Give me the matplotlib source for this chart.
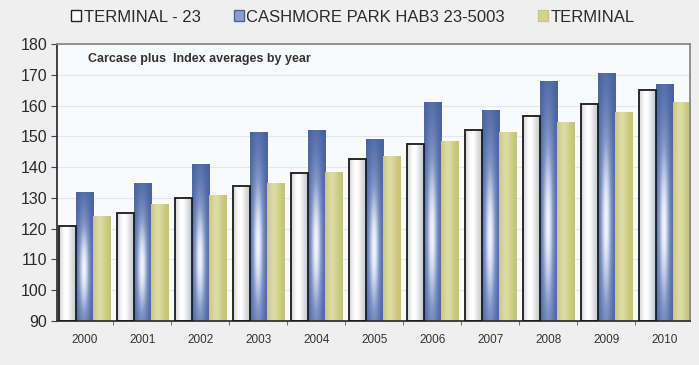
import matplotlib
matplotlib.use("Agg")
import matplotlib.pyplot as plt
import numpy as np
from matplotlib.colors import LinearSegmentedColormap
from matplotlib.patches import Patch

years = ["2000", "2001", "2002", "2003", "2004", "2005", "2006", "2007", "2008", "2009", "2010"]
terminal_23 = [121, 125, 130, 134, 138, 142.5, 147.5, 152, 156.5, 160.5, 165]
cashmore = [132, 135, 141, 151.5, 152, 149, 161, 158.5, 168, 170.5, 167]
terminal = [124, 128, 131, 135, 138.5, 143.5, 148.5, 151.5, 154.5, 158, 161]
series_names = ["TERMINAL - 23", "CASHMORE PARK HAB3 23-5003", "TERMINAL"]
yticks = [90, 100, 110, 120, 130, 140, 150, 160, 170, 180]

plt.rcParams["font.family"] = ["Liberation Sans", "DejaVu Sans"]

cmaps = [
    LinearSegmentedColormap.from_list("w", ["#c4c7cc", "#ffffff"]),
    LinearSegmentedColormap.from_list("b", ["#4762a0", "#8397c8", "#f2f5fc"]),
    LinearSegmentedColormap.from_list("g", ["#c4c270", "#dcdca4"]),
]
edges = ["#1a1a1a", "none", "none"]


def shade(kind, n=60):
    # horizontal / vertical highlight profile for the shiny bars
    u = np.linspace(0, 1, n)
    v = np.linspace(0, 1, 2 * n)[:, None]
    if kind == 1:
        return np.exp(-((u - 0.45) / 0.34) ** 2) * np.exp(-((v - 0.4) / 0.42) ** 2)
    return np.exp(-((u - 0.4) / 0.35) ** 2) * np.ones_like(v)


fig = plt.figure(figsize=(6.99, 3.65), dpi=100, facecolor="#efefef")
ax = fig.add_axes([0.0815, 0.1205, 0.906, 0.759])
ax.set_facecolor("#f9fafc")

x = np.arange(len(years))
w = 0.295
for i, vals in enumerate([terminal_23, cashmore, terminal]):
    bars = ax.bar(x + (i - 1) * w, np.array(vals) - 90, w, bottom=90,
                  facecolor="none", edgecolor=edges[i], linewidth=1.3, zorder=3)
    for b in bars:
        x0, y0 = b.get_x(), b.get_y()
        im = ax.imshow(shade(i), cmap=cmaps[i], vmin=0, vmax=1, origin="lower",
                       extent=[x0, x0 + b.get_width(), y0, y0 + b.get_height()],
                       aspect="auto", zorder=2, interpolation="bilinear")
        im.set_clip_path(b)

ax.set_xlim(-0.47, 10.45)
ax.set_ylim(90, 180)
ax.set_yticks(yticks)
ax.set_yticklabels([str(t) for t in yticks], fontsize=11.5, color="#2a2a2a")
ax.set_xticks(x)
ax.set_xticklabels(years, fontsize=8.5, color="#333333")
ax.tick_params(axis="x", length=0, pad=9)
ax.set_xticks(x[:-1] + 0.5, minor=True)
ax.tick_params(axis="x", which="minor", length=3, color="#555555")
ax.tick_params(axis="y", length=4, color="#444444", pad=3)
ax.grid(axis="y", color="#e3e6ec", linewidth=0.8, zorder=0)

for side in ["left", "bottom"]:
    ax.spines[side].set_color("#333333")
    ax.spines[side].set_linewidth(1.3)
for side in ["top", "right"]:
    ax.spines[side].set_color("#8a8a8a")
    ax.spines[side].set_linewidth(1.3)

ax.text(0.049, 0.968, "Carcase plus  Index averages by year", transform=ax.transAxes,
        fontsize=9, fontweight="bold", color="#333333", va="top", ha="left")

handles = [
    Patch(facecolor="#ffffff", edgecolor="#222222", linewidth=1),
    Patch(facecolor="#8a9fcc", edgecolor="#4a62a0", linewidth=1),
    Patch(facecolor="#d3d38e", edgecolor="#c8c882", linewidth=1),
]
fig.legend(handles, series_names, loc="center left", bbox_to_anchor=(71 / 699, 0.953), ncol=3,
           frameon=False, fontsize=12, handlelength=0.6, handleheight=0.6, borderpad=0,
           borderaxespad=0, handletextpad=0.15, columnspacing=2.0, labelcolor="#2a2a2a")

fig.savefig("out.png", dpi=100, facecolor=fig.get_facecolor())
